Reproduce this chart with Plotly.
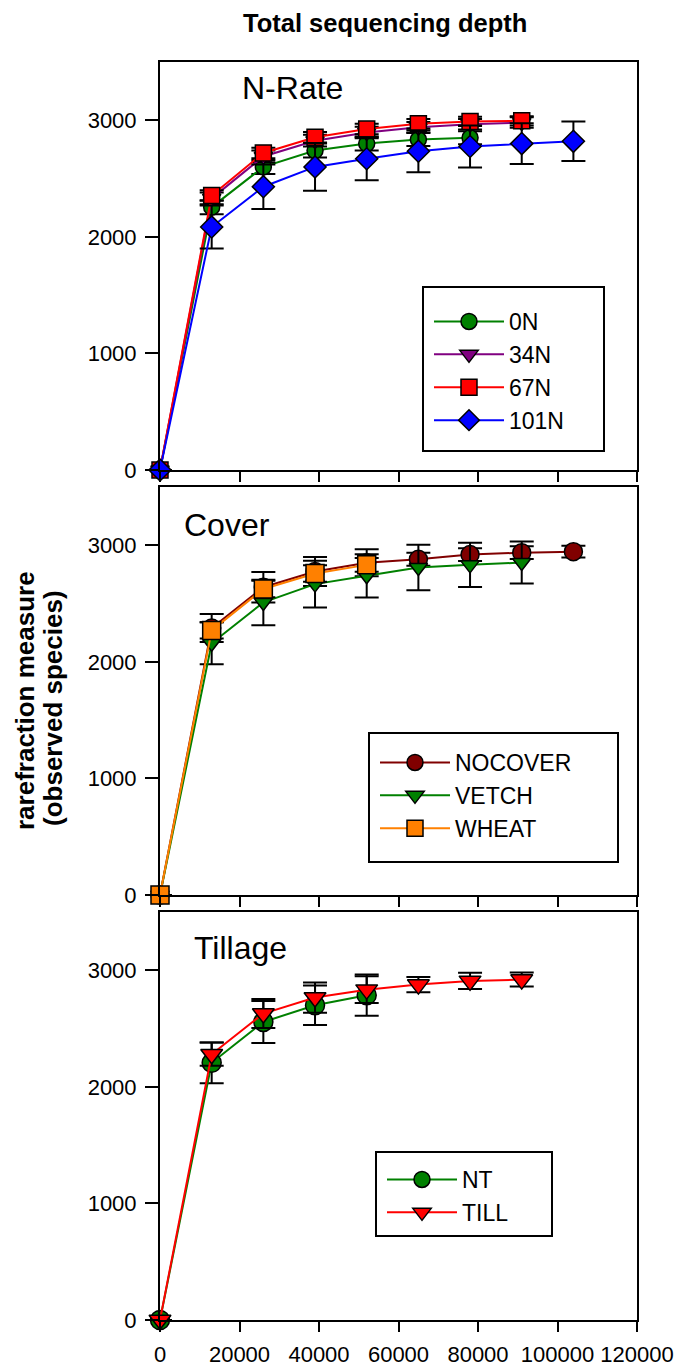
import plotly.graph_objects as go

W, H = 678, 1368
FONT = "Liberation Sans, Arial, sans-serif"

# ---------------- data ----------------
depth = [0, 13000, 26000, 39000, 52000, 65000, 78000, 91000, 104000]

# N-Rate panel
n0_mean = [0, 2255, 2600, 2740, 2800, 2835, 2850]
n0_sd = [0, 60, 60, 60, 60, 55, 55]
n34_mean = [0, 2330, 2690, 2825, 2895, 2940, 2965, 2980]
n34_sd = [0, 50, 50, 50, 50, 45, 45, 45]
n67_mean = [0, 2355, 2720, 2855, 2925, 2970, 2990, 2995]
n67_sd = [0, 45, 45, 45, 45, 40, 40, 40]
n101_mean = [0, 2085, 2430, 2600, 2670, 2735, 2775, 2800, 2820]
n101_sd = [0, 185, 190, 205, 185, 180, 180, 175, 170]

# Cover panel
nocover_mean = [0, 2290, 2640, 2775, 2850, 2880, 2920, 2937, 2945]
nocover_sd = [0, 120, 130, 125, 115, 55, 55, 55, 50]
vetch_mean = [0, 2160, 2510, 2667, 2738, 2809, 2832, 2852]
vetch_sd = [0, 180, 195, 200, 185, 195, 190, 180]
wheat_mean = [0, 2270, 2625, 2758, 2832]
wheat_sd = [0, 70, 70, 70, 60]

# Tillage panel
nt_mean = [0, 2206, 2557, 2700, 2786]
nt_sd = [0, 175, 180, 170, 177]
till_mean = [0, 2280, 2629, 2766, 2834, 2877, 2909, 2920]
till_sd = [0, 100, 125, 130, 115, 65, 70, 60]

x_ticks = [0, 20000, 40000, 60000, 80000, 100000, 120000]
y_ticks = [0, 1000, 2000, 3000]

panel_names = ["N-Rate", "Cover", "Tillage"]
title_text = "Total sequencing depth"
ytitle_lines = ["rarefraction measure", "(observed species)"]

# ---------------- helpers ----------------
def px(xp):
    return xp / W


def py(yp):
    return 1 - yp / H


panels = [(62, 470), (487, 895), (912, 1320)]
x_dom = [px(160), px(637)]

fig = go.Figure()


def add_series(name, mean, sd, color, symbol, size, ax, leg):
    xs = depth[: len(mean)]
    fig.add_trace(
        go.Scatter(
            x=xs,
            y=mean,
            name=name,
            mode="lines+markers",
            line=dict(color=color, width=2),
            marker=dict(symbol=symbol, size=size, color=color,
                        line=dict(color="black", width=1.5)),
            error_y=dict(type="data", array=sd, visible=True,
                         color="black", thickness=2, width=12),
            cliponaxis=False,
            xaxis="x" + ("" if ax == 1 else str(ax)),
            yaxis="y" + ("" if ax == 1 else str(ax)),
            legend="legend" + ("" if leg == 1 else str(leg)),
        )
    )


add_series("0N", n0_mean, n0_sd, "#008000", "circle", 16, 1, 1)
add_series("34N", n34_mean, n34_sd, "#800080", "triangle-down", 16, 1, 1)
add_series("67N", n67_mean, n67_sd, "#FF0000", "square", 16, 1, 1)
add_series("101N", n101_mean, n101_sd, "#0000FF", "diamond", 17, 1, 1)

add_series("NOCOVER", nocover_mean, nocover_sd, "#800000", "circle", 18, 2, 2)
add_series("VETCH", vetch_mean, vetch_sd, "#008000", "triangle-down", 16, 2, 2)
add_series("WHEAT", wheat_mean, wheat_sd, "#FF8000", "square", 18, 2, 2)

add_series("NT", nt_mean, nt_sd, "#008000", "circle", 19, 3, 3)
add_series("TILL", till_mean, till_sd, "#FF0000", "triangle-down", 19, 3, 3)

axis_common = dict(
    showline=True, linecolor="black", linewidth=2, mirror=True,
    showgrid=False, zeroline=False, ticks="outside", tickcolor="black",
    tickwidth=1.5, tickfont=dict(family=FONT, size=22, color="black"),
    automargin=False, tickangle=0,
)

layout = dict(
    width=W, height=H, autosize=False,
    margin=dict(l=0, r=0, t=0, b=0, pad=0, autoexpand=False),
    paper_bgcolor="white", plot_bgcolor="white",
    font=dict(family=FONT, color="black"),
)

for i, (top, bot) in enumerate(panels, start=1):
    sfx = "" if i == 1 else str(i)
    layout["xaxis" + sfx] = dict(
        axis_common, domain=x_dom, range=[0, 120000], anchor="y" + sfx,
        tickmode="array", tickvals=x_ticks, ticktext=[str(v) for v in x_ticks],
        ticklen=10, showticklabels=(i == 3), ticklabelstandoff=4,
    )
    layout["yaxis" + sfx] = dict(
        axis_common, domain=[py(bot), py(top)], range=[0, 3500], anchor="x" + sfx,
        tickmode="array", tickvals=y_ticks, ticktext=[str(v) for v in y_ticks],
        ticklen=13, ticklabelstandoff=4,
    )

legend_common = dict(
    bgcolor="rgba(0,0,0,0)", borderwidth=0, itemwidth=70,
    font=dict(family=FONT, size=23, color="black"),
    xanchor="left", yanchor="top", tracegroupgap=0,
)
layout["legend"] = dict(legend_common, x=px(429), y=py(300))
layout["legend2"] = dict(legend_common, x=px(375), y=py(741))
layout["legend3"] = dict(legend_common, x=px(382), y=py(1158))
layout["showlegend"] = True

fig.update_layout(**layout)

# legend frames
for (x0, y0, x1, y1) in [(423, 287, 604, 451), (369, 733, 618, 862), (376, 1152, 552, 1236)]:
    fig.add_shape(type="rect", xref="paper", yref="paper",
                  x0=px(x0), x1=px(x1), y0=py(y0), y1=py(y1),
                  line=dict(color="black", width=2), fillcolor="rgba(0,0,0,0)")

# panel labels
for name, (lx, ly) in zip(panel_names, [(240, 88), (182, 525), (192, 948)]):
    fig.add_annotation(text=name, xref="paper", yref="paper", x=px(lx), y=py(ly),
                       xanchor="left", yanchor="middle", showarrow=False,
                       font=dict(family=FONT, size=32, color="black"))

# title
fig.add_annotation(text="<b>" + title_text + "</b>", xref="paper", yref="paper",
                   x=px(385), y=py(23), xanchor="center", yanchor="middle",
                   showarrow=False, font=dict(family=FONT, size=25.5, color="black"))

# y axis title (two lines)
for txt, (lx, ly) in zip(ytitle_lines, [(25, 701), (53, 708)]):
    fig.add_annotation(text="<b>" + txt + "</b>", xref="paper", yref="paper",
                       x=px(lx), y=py(ly), xanchor="center", yanchor="middle",
                       textangle=-90, showarrow=False,
                       font=dict(family=FONT, size=26, color="black"))

fig.write_html("out.html")
